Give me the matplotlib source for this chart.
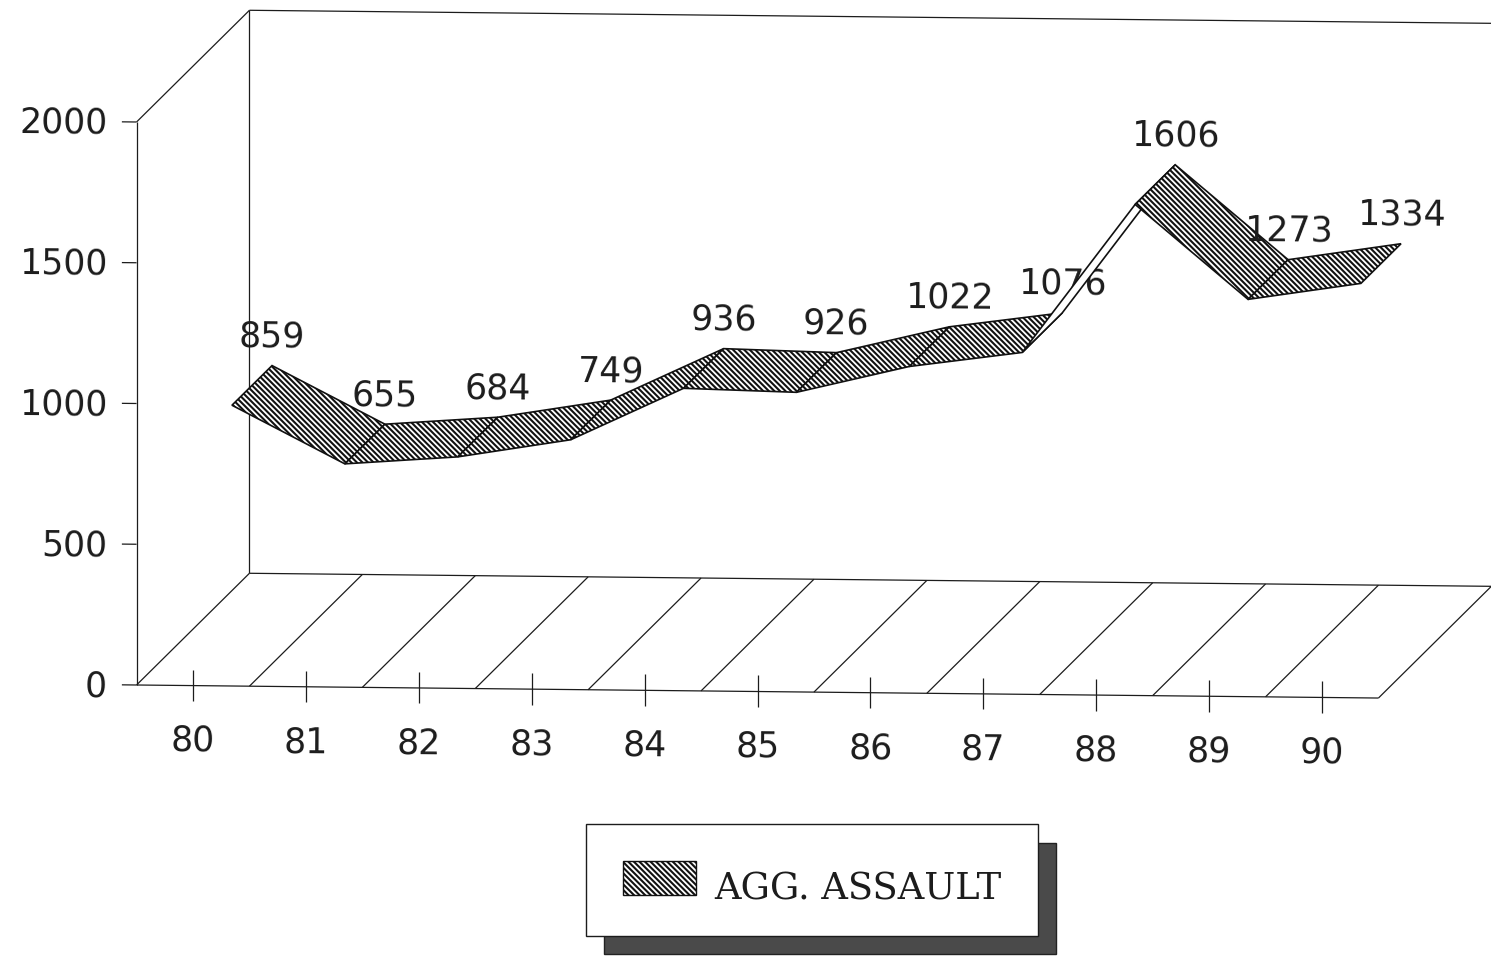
import matplotlib
matplotlib.use("Agg")
import matplotlib.pyplot as plt
from matplotlib.patches import Polygon, Patch
from matplotlib.transforms import Affine2D

# ---- data ----
years = ["80", "81", "82", "83", "84", "85", "86", "87", "88", "89", "90"]
assaults = [859, 655, 684, 749, 936, 926, 1022, 1076, 1606, 1273, 1334]
y_ticks = [0, 500, 1000, 1500, 2000]
series_name = "AGG. ASSAULT"

# ---- style ----
INK = "#1c1c1c"
NUM_FONT = ["DejaVu Sans"]
NUM_SIZE = 25
plt.rcParams["hatch.linewidth"] = 1.5
plt.rcParams["hatch.color"] = "#111111"
HATCH = "\\" * 6
W, H = 1491, 957
fig = plt.figure(figsize=(W / 100, H / 100), dpi=100)
ax = fig.add_axes([0, 0, 1, 1])
ax.axis("off")
PX_X, PX_Y = 112.9, 0.2815
ax.set_xlim(-193 / PX_X, (W - 193) / PX_X)
ax.set_ylim((685 - H) / PX_Y, 685 / PX_Y)

# scan tilt: the whole chart falls slightly to the right
k = 0.0105
x0 = 137
shear = Affine2D(matrix=[[1, 0, 0], [-k, 1, k * x0], [0, 0, 1]])
T = ax.transData + shear

# oblique depth, in data units per unit of depth
DX, DY = 1.0, 1.0 * PX_X / PX_Y
def pt(x, v, d=0.0):
    return (x + d * DX, v + d * DY)

xl, xr = -0.5, len(years) - 0.5
ymax = y_ticks[-1]
line = dict(color=INK, lw=0.9, transform=T, solid_capstyle="butt", zorder=1)

def seg(a, b, **kw):
    ax.plot([a[0], b[0]], [a[1], b[1]], **{**line, **kw})

# walls
seg(pt(xl, 0), pt(xl, ymax))
seg(pt(xl, ymax), pt(xl, ymax, 1))
seg(pt(xl, 0, 1), pt(xl, ymax, 1))
seg(pt(xl, ymax, 1), pt(xr, ymax, 1))
seg(pt(xl, 0, 1), pt(xr, 0, 1))
seg(pt(xl, 0), pt(xr, 0))
for i in range(len(years) + 1):
    seg(pt(xl + i, 0), pt(xl + i, 0, 1))

# ticks
for v in y_ticks:
    ax.plot([xl - 0.13, xl], [v, v], **line)
    ax.annotate(str(v), xy=(xl, v), xycoords=T, xytext=(-21, -1), textcoords="offset points",
                ha="right", va="center", fontsize=NUM_SIZE, family=NUM_FONT, color=INK, rotation=-0.5)
for i, lab in enumerate(years):
    ax.plot([i, i], [-55, 57], **line)
    ax.annotate(lab, xy=(i, 0), xycoords=T, xytext=(0, -40), textcoords="offset points",
                ha="center", va="center", fontsize=NUM_SIZE, family=NUM_FONT, color=INK, rotation=-0.5)

# ribbon
D_FRONT, D_BACK = 0.345, 0.70
for i in range(len(years) - 1):
    verts = [pt(i, assaults[i], D_FRONT), pt(i + 1, assaults[i + 1], D_FRONT),
             pt(i + 1, assaults[i + 1], D_BACK), pt(i, assaults[i], D_BACK)]
    thin = assaults[i + 1] - assaults[i] > 400   # steep strip shows white
    ax.add_patch(Polygon(verts, closed=True, transform=T, facecolor="white",
                         edgecolor="#111111", lw=1.2, hatch=None if thin else HATCH,
                         zorder=3 + 0.01 * i))

# value labels
for i, v in enumerate(assaults):
    ax.annotate(str(v), xy=pt(i, v, D_BACK), xycoords=T, xytext=(0, 20.5),
                textcoords="offset points", ha="center", va="center", fontsize=NUM_SIZE,
                family=NUM_FONT, color=INK, rotation=-0.5,
                zorder=2.5 if i == 7 else 5)

# legend
handle = Patch(facecolor="white", edgecolor="#111111", hatch=HATCH, lw=1.0)
leg = ax.legend([handle], [series_name], loc="center",
                bbox_to_anchor=(812 / W, 1 - 880 / H), bbox_transform=fig.transFigure,
                fancybox=False, framealpha=1, edgecolor=INK,
                shadow={"facecolor": "#4a4a4a", "edgecolor": "#222222", "ox": 13, "oy": -13, "alpha": 1},
                prop={"family": "DejaVu Serif", "size": 26.5},
                handlelength=2.0, handleheight=1.03, handletextpad=0.49,
                borderpad=1.0, borderaxespad=0)
leg.set_zorder(10)
leg.get_texts()[0].set_color(INK)
leg.get_texts()[0].set_y(-9)
leg.get_frame().set_linewidth(1.0)

fig.savefig("out.png", dpi=100, facecolor="white")
